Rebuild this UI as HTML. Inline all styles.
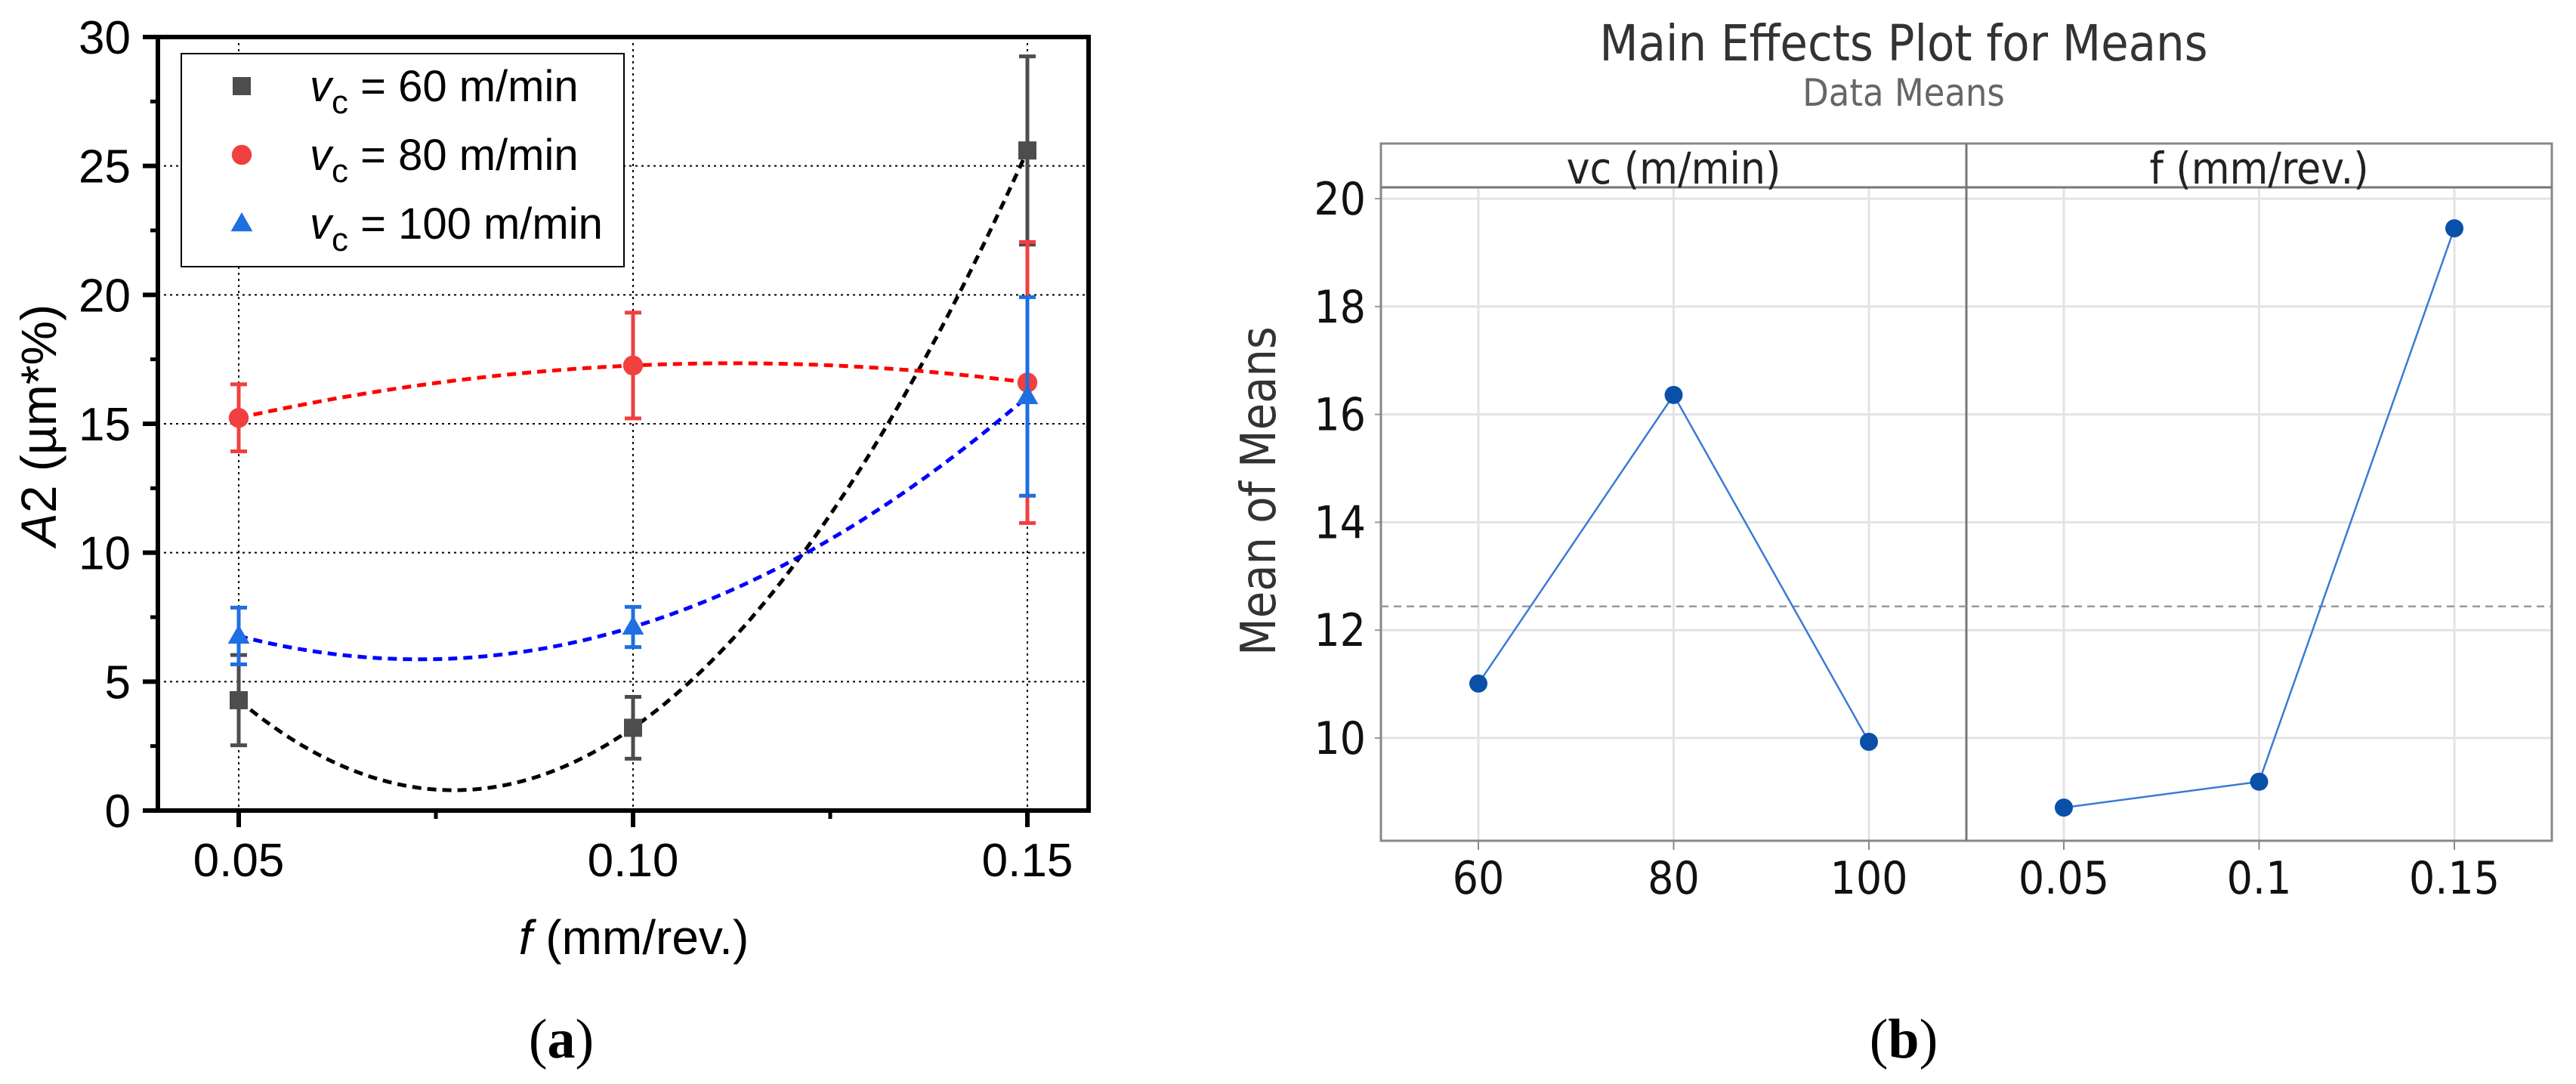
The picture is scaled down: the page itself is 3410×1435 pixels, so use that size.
<!DOCTYPE html>
<html><head><meta charset="utf-8"><style>
html,body{margin:0;padding:0;background:#fff;}
svg{display:block;}
</style></head><body>
<svg id="fig" width="3410" height="1435" xmlns="http://www.w3.org/2000/svg">
<g id="ga"></g>
<g id="gb"></g>
</svg>
<script>
// ---- Chart (a) data ----
const feedsA = [0.05, 0.10, 0.15];
const vc60 = [4.28, 3.21, 25.6];
const vc60Err = [1.75, 1.2, 3.65];
const vc80 = [15.23, 17.26, 16.6];
const vc80Err = [1.3, 2.05, 5.45];
const vc100 = [6.77, 7.12, 16.06];
const vc100Err = [1.1, 0.78, 3.85];
const yTicksA = [0, 5, 10, 15, 20, 25, 30];
const xTicksA = ["0.05", "0.10", "0.15"];
const legendLabels = ["60 m/min", "80 m/min", "100 m/min"];
// ---- Chart (b) data ----
const vcLevels = ["60", "80", "100"];
const vcMeans = [11.01, 16.36, 9.93];
const fLevels = ["0.05", "0.1", "0.15"];
const fMeans = [8.71, 9.19, 19.45];
const grandMean = 12.44;
const yTicksB = [10, 12, 14, 16, 18, 20];

const NS = "http://www.w3.org/2000/svg";
function mk(parent, tag, attrs, text){
  const e = document.createElementNS(NS, tag);
  for (const k in attrs) e.setAttribute(k, attrs[k]);
  if (text !== undefined) e.textContent = text;
  parent.appendChild(e);
  return e;
}
const ga = document.getElementById('ga');
const gb = document.getElementById('gb');

// ===== Chart (a) =====
const AL = 209, AR = 1441, AT = 49, AB = 1073;
const xA = v => 316 + (v - 0.05) / 0.10 * (1360 - 316);
const yA = v => AB - v * (AB - AT) / 30;
const FA = '"Liberation Sans", sans-serif';

for (const t of yTicksA) {
  if (t === 0 || t === 30) continue;
  const g = mk(ga, 'line', {x1: AL, x2: AR, y1: yA(t), y2: yA(t), stroke: '#000', 'stroke-width': 2, 'stroke-dasharray': '3,5'});
  
  
}
feedsA.forEach(f => {
  const g = mk(ga, 'line', {x1: xA(f), x2: xA(f), y1: AT, y2: AB, stroke: '#000', 'stroke-width': 2, 'stroke-dasharray': '3,5'});
  
  
});
const fr = mk(ga, 'rect', {x: AL, y: AT, width: AR - AL, height: AB - AT, fill: 'none', stroke: '#000', 'stroke-width': 6});


yTicksA.forEach(t => {
  const tk = mk(ga, 'line', {x1: AL - 20, x2: AL, y1: yA(t), y2: yA(t), stroke: '#000', 'stroke-width': 6});
  
  
  const lb = mk(ga, 'text', {x: 173, y: yA(t) + 22, 'text-anchor': 'end', 'font-family': FA, 'font-size': 62}, String(t));
  
  
});
for (let t = 2.5; t < 30; t += 5) {
  const tk = mk(ga, 'line', {x1: AL - 10, x2: AL, y1: yA(t), y2: yA(t), stroke: '#000', 'stroke-width': 5});
  
  
}
feedsA.forEach((f, i) => {
  const tk = mk(ga, 'line', {x1: xA(f), x2: xA(f), y1: AB, y2: AB + 22, stroke: '#000', 'stroke-width': 6});
  
  
  const lb = mk(ga, 'text', {x: xA(f), y: 1160, 'text-anchor': 'middle', 'font-family': FA, 'font-size': 62}, xTicksA[i]);
  
  
});
[0.075, 0.125].forEach(f => {
  const tk = mk(ga, 'line', {x1: xA(f), x2: xA(f), y1: AB, y2: AB + 11, stroke: '#000', 'stroke-width': 5});
  
  
});
const xt = mk(ga, 'text', {x: 839, y: 1263, 'text-anchor': 'middle', 'font-family': FA, 'font-size': 64});


mk(xt, 'tspan', {'font-style': 'italic'}, 'f');
mk(xt, 'tspan', {}, ' (mm/rev.)');
const yt = mk(ga, 'text', {x: 0, y: 0, transform: 'translate(74,563) rotate(-90)', 'text-anchor': 'middle', 'font-family': FA, 'font-size': 66});


mk(yt, 'tspan', {'font-style': 'italic'}, 'A');
mk(yt, 'tspan', {}, '2 (µm*%)');

function quadPath(ys){
  const [x0, x1, x2] = feedsA, [y0, y1, y2] = ys;
  const L = x => y0 * (x - x1) * (x - x2) / ((x0 - x1) * (x0 - x2)) + y1 * (x - x0) * (x - x2) / ((x1 - x0) * (x1 - x2)) + y2 * (x - x0) * (x - x1) / ((x2 - x0) * (x2 - x1));
  let d = '';
  for (let i = 0; i <= 100; i++) {
    const x = x0 + (x2 - x0) * i / 100;
    d += (i ? 'L' : 'M') + xA(x).toFixed(1) + ',' + yA(L(x)).toFixed(1);
  }
  return d;
}
const series = [
  {vals: vc60, err: vc60Err, fit: '#000', col: '#4d4d4d', shape: 'square', name: '60'},
  {vals: vc80, err: vc80Err, fit: '#ff0000', col: '#f04040', shape: 'circle', name: '80'},
  {vals: vc100, err: vc100Err, fit: '#0000ff', col: '#1f6fe0', shape: 'triangle', name: '100'}
];
function marker(parent, shape, cx, cy, col, s){
  if (shape === 'square') return mk(parent, 'rect', {x: cx - s, y: cy - s, width: 2 * s, height: 2 * s, fill: col});
  if (shape === 'circle') return mk(parent, 'circle', {cx: cx, cy: cy, r: s * 1.1, fill: col});
  return mk(parent, 'polygon', {points: `${cx},${cy - s * 1.25} ${cx - s * 1.2},${cy + s * 0.85} ${cx + s * 1.2},${cy + s * 0.85}`, fill: col});
}
series.forEach(s => {
  const p = mk(ga, 'path', {d: quadPath(s.vals), fill: 'none', stroke: s.fit, 'stroke-width': 5, 'stroke-dasharray': '12,8'});
  
  
});
series.forEach(s => {
  feedsA.forEach((f, i) => {
    const x = xA(f), y = s.vals[i], e = s.err[i];
    const eb = mk(ga, 'path', {d: `M${x},${yA(y - e)}V${yA(y + e)}M${x - 11},${yA(y - e)}H${x + 11}M${x - 11},${yA(y + e)}H${x + 11}`, stroke: s.col, 'stroke-width': 5, fill: 'none'});
    
    
    const m = marker(ga, s.shape, x, yA(y), s.col, 12);
    
    
  });
});
const lg = mk(ga, 'g', {});


mk(lg, 'rect', {x: 240, y: 71, width: 586, height: 282, fill: '#fff', stroke: '#000', 'stroke-width': 2});
series.forEach((s, i) => {
  const cy = 114 + i * 91;
  const m = marker(lg, s.shape, 320, cy, s.col, 12);
  
  
  const t = mk(lg, 'text', {x: 410, y: cy + 20, 'font-family': FA, 'font-size': 58});
  
  
  mk(t, 'tspan', {'font-style': 'italic'}, 'v');
  mk(t, 'tspan', {dy: 16, 'font-size': 44}, 'c');
  mk(t, 'tspan', {dy: -16}, ' = ' + legendLabels[i]);
});
const ca = mk(ga, 'text', {x: 743, y: 1400, 'text-anchor': 'middle', 'font-family': '"Liberation Serif", serif', 'font-size': 74});


mk(ca, 'tspan', {}, '(');
mk(ca, 'tspan', {'font-weight': 'bold'}, 'a');
mk(ca, 'tspan', {}, ')');

// ===== Chart (b) =====
const BL = 1828, BR = 3378, BD = 2603, BT = 190, BH = 248, BB = 1113;
const yB = v => 977 - (v - 10) * 71.4;
const xVc = i => 1957 + i * 258.5;
const xF = i => 2732 + i * 258.5;
const FB = '"DejaVu Sans Condensed", "Liberation Sans Narrow", "Liberation Sans", sans-serif';

const tt = mk(gb, 'text', {x: 2520, y: 80, 'text-anchor': 'middle', 'font-family': FB, 'font-size': 66, fill: '#333'}, 'Main Effects Plot for Means');


const st = mk(gb, 'text', {x: 2520, y: 140, 'text-anchor': 'middle', 'font-family': FB, 'font-size': 50, fill: '#666'}, 'Data Means');



yTicksB.forEach(t => {
  const g = mk(gb, 'line', {x1: BL, x2: BR, y1: yB(t), y2: yB(t), stroke: '#e3e3e3', 'stroke-width': 3});
  
  
  const tk = mk(gb, 'line', {x1: BL - 8, x2: BL, y1: yB(t), y2: yB(t), stroke: '#999', 'stroke-width': 2});
  
  
  const lb = mk(gb, 'text', {x: 1808, y: yB(t) + 21, 'text-anchor': 'end', 'font-family': FB, 'font-size': 60, fill: '#111'}, String(t));
  
  
});
vcLevels.forEach((l, i) => {
  mk(gb, 'line', {x1: xVc(i), x2: xVc(i), y1: BH, y2: BB, stroke: '#e3e3e3', 'stroke-width': 3});
  const tk = mk(gb, 'line', {x1: xVc(i), x2: xVc(i), y1: BB, y2: BB + 12, stroke: '#888', 'stroke-width': 2});
  
  
  const lb = mk(gb, 'text', {x: xVc(i), y: 1183, 'text-anchor': 'middle', 'font-family': FB, 'font-size': 60, fill: '#111'}, l);
  
  
});
fLevels.forEach((l, i) => {
  mk(gb, 'line', {x1: xF(i), x2: xF(i), y1: BH, y2: BB, stroke: '#e3e3e3', 'stroke-width': 3});
  const tk = mk(gb, 'line', {x1: xF(i), x2: xF(i), y1: BB, y2: BB + 12, stroke: '#888', 'stroke-width': 2});
  
  
  const lb = mk(gb, 'text', {x: xF(i), y: 1183, 'text-anchor': 'middle', 'font-family': FB, 'font-size': 60, fill: '#111'}, l);
  
  
});
const fb = mk(gb, 'rect', {x: BL, y: BT, width: BR - BL, height: BB - BT, fill: 'none', stroke: '#888', 'stroke-width': 3});


mk(gb, 'line', {x1: BL, x2: BR, y1: BH, y2: BH, stroke: '#777', 'stroke-width': 3});
mk(gb, 'line', {x1: BD, x2: BD, y1: BT, y2: BB, stroke: '#777', 'stroke-width': 3});
const h1 = mk(gb, 'text', {x: (BL + BD) / 2, y: 243, 'text-anchor': 'middle', 'font-family': FB, 'font-size': 58, fill: '#222'}, 'vc (m/min)');


const h2 = mk(gb, 'text', {x: (BD + BR) / 2, y: 243, 'text-anchor': 'middle', 'font-family': FB, 'font-size': 58, fill: '#222'}, 'f (mm/rev.)');


const ml = mk(gb, 'line', {x1: BL, x2: BR, y1: yB(grandMean), y2: yB(grandMean), stroke: '#999', 'stroke-width': 2.5, 'stroke-dasharray': '10,7'});


const lv = mk(gb, 'polyline', {points: vcMeans.map((v, i) => xVc(i) + ',' + yB(v)).join(' '), fill: 'none', stroke: '#3a7bd5', 'stroke-width': 2.5});


const lf = mk(gb, 'polyline', {points: fMeans.map((v, i) => xF(i) + ',' + yB(v)).join(' '), fill: 'none', stroke: '#3a7bd5', 'stroke-width': 2.5});


vcMeans.forEach((v, i) => {
  const c = mk(gb, 'circle', {cx: xVc(i), cy: yB(v), r: 12, fill: '#0a50a8'});
  
  
});
fMeans.forEach((v, i) => {
  const c = mk(gb, 'circle', {cx: xF(i), cy: yB(v), r: 12, fill: '#0a50a8'});
  
  
});
const yb = mk(gb, 'text', {x: 0, y: 0, transform: 'translate(1688,650) rotate(-90)', 'text-anchor': 'middle', 'font-family': FB, 'font-size': 64, fill: '#333'}, 'Mean of Means');


const cb = mk(gb, 'text', {x: 2520, y: 1400, 'text-anchor': 'middle', 'font-family': '"Liberation Serif", serif', 'font-size': 74});


mk(cb, 'tspan', {}, '(');
mk(cb, 'tspan', {'font-weight': 'bold'}, 'b');
mk(cb, 'tspan', {}, ')');
</script>
</body></html>
